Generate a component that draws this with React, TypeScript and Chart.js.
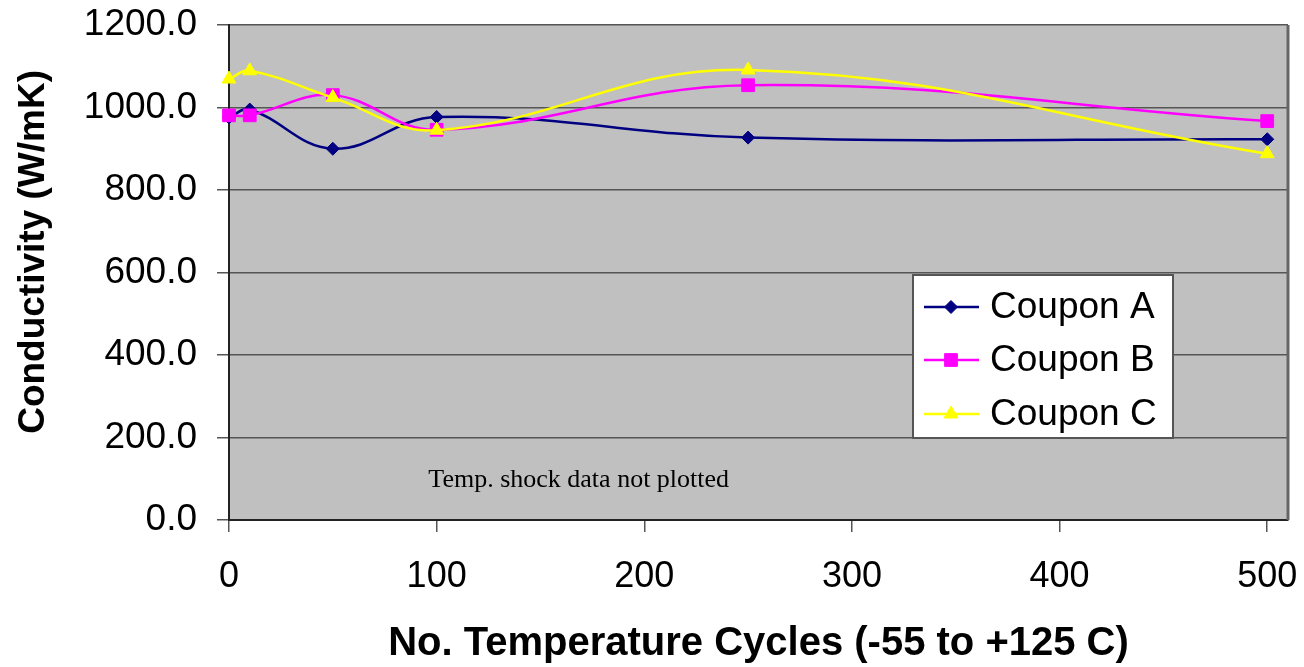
import React, { useEffect, useRef } from "react";
import { Chart, registerables } from "chart.js";
import { drawPoint } from "chart.js/helpers";

Chart.register(...registerables);

const cycles = [0, 10, 50, 100, 250, 500];
const couponA = [976, 995, 900, 977, 927, 923];
const couponB = [981, 981, 1030, 946, 1054, 967];
const couponC = [1069, 1089, 1024, 945, 1091, 888];
const seriesNames = ["Coupon A", "Coupon B", "Coupon C"];
const seriesColors = ["#000080", "#ff00ff", "#ffff00"];
const seriesMarkers = ["rectRot", "rect", "triangle"];
const markerRadius = [6.5, 9, 8];
const xTickValues = [0, 100, 200, 300, 400, 500];
const yTickValues = [0, 200, 400, 600, 800, 1000, 1200];
const xTitle = "No. Temperature Cycles (-55 to +125 C)";
const yTitle = "    Conductivity (W/mK)";
const noteText = "Temp. shock data not plotted";
const noteX = 96;
const noteY = 80;

const SANS = "'Liberation Sans', Arial, sans-serif";
const SERIF = "'Liberation Serif', 'Times New Roman', serif";

const plotBg = {
  id: "plotBg",
  beforeDraw(chart: any) {
    const { ctx, chartArea: a } = chart;
    ctx.save();
    ctx.fillStyle = "#ffffff";
    ctx.fillRect(0, 0, chart.width, chart.height);
    ctx.fillStyle = "#c0c0c0";
    ctx.fillRect(a.left, a.top, a.right - a.left, a.bottom - a.top);
    ctx.restore();
  },
  beforeDatasetsDraw(chart: any) {
    const { ctx, chartArea: a, scales } = chart;
    ctx.save();
    ctx.strokeStyle = "#666666";
    ctx.lineWidth = 3;
    ctx.beginPath();
    ctx.moveTo(a.right, a.top);
    ctx.lineTo(a.right, a.bottom);
    ctx.stroke();
    ctx.font = `26px ${SERIF}`;
    ctx.fillStyle = "#000";
    ctx.textAlign = "left";
    ctx.textBaseline = "alphabetic";
    ctx.fillText(noteText, scales.x.getPixelForValue(noteX), scales.y.getPixelForValue(noteY));
    ctx.restore();
  },
};

const legendBox = {
  id: "legendBox",
  afterDatasetsDraw(chart: any) {
    const { ctx } = chart;
    const left = 913, top = 275, w = 260, h = 163;
    ctx.save();
    ctx.fillStyle = "#ffffff";
    ctx.fillRect(left, top, w, h);
    ctx.strokeStyle = "#555555";
    ctx.lineWidth = 2;
    ctx.strokeRect(left, top, w, h);
    const rows = [307, 360, 414];
    seriesNames.forEach((name, i) => {
      const y = rows[i];
      ctx.strokeStyle = seriesColors[i];
      ctx.lineWidth = 2.5;
      ctx.beginPath();
      ctx.moveTo(924, y);
      ctx.lineTo(979, y);
      ctx.stroke();
      ctx.fillStyle = seriesColors[i];
      ctx.lineWidth = 1;
      drawPoint(ctx, { pointStyle: seriesMarkers[i] as any, radius: markerRadius[i], rotation: 0, borderWidth: 1 }, 951, y);
      ctx.fillStyle = "#000";
      ctx.font = `37px ${SANS}`;
      ctx.textAlign = "left";
      ctx.textBaseline = "middle";
      ctx.fillText(name, 990, y + 1);
    });
    ctx.restore();
  },
};

export default function App() {
  const ref = useRef<HTMLCanvasElement>(null);
  useEffect(() => {
    if (!ref.current) return;
    const series = [couponA, couponB, couponC];
    const chart = new Chart(ref.current, {
      type: "line",
      data: {
        datasets: series.map((vals, i) => ({
          label: seriesNames[i],
          data: cycles.map((x, j) => ({ x, y: vals[j] })),
          borderColor: seriesColors[i],
          backgroundColor: seriesColors[i],
          borderWidth: 2.5,
          pointStyle: seriesMarkers[i] as any,
          pointRadius: markerRadius[i],
          pointBorderWidth: 1,
          pointBorderColor: seriesColors[i],
          pointBackgroundColor: seriesColors[i],
          tension: 0.4,
          fill: false,
          clip: false as any,
          order: 3 - i,
        })),
      },
      options: {
        animation: false,
        responsive: false,
        layout: { padding: { left: 0, top: 25, right: 16, bottom: 0 } },
        plugins: { legend: { display: false }, tooltip: { enabled: false } },
        scales: {
          x: {
            type: "linear",
            min: 0,
            max: 510,
            afterBuildTicks: (s: any) => {
              s.ticks = xTickValues.map((v) => ({ value: v }));
            },
            afterFit: (s: any) => {
              s.height = 147;
              s.paddingLeft = 0;
              s.paddingRight = 0;
              s.paddingTop = 0;
              s.paddingBottom = 0;
            },
            grid: { drawOnChartArea: false, drawTicks: true, tickLength: 12, color: "#555555", lineWidth: 1.5 },
            border: { display: true, color: "#222222", width: 2 },
            ticks: { color: "#000", font: { family: SANS, size: 36 }, padding: 23, maxRotation: 0, autoSkip: false },
            title: {
              display: true,
              text: xTitle,
              color: "#000",
              font: { family: SANS, size: 40, weight: "bold", lineHeight: 1 },
              padding: { top: 0, bottom: 3 },
            },
          },
          y: {
            type: "linear",
            min: 0,
            max: 1200,
            afterBuildTicks: (s: any) => {
              s.ticks = yTickValues.map((v) => ({ value: v }));
            },
            afterFit: (s: any) => {
              s.width = 229;
              s.paddingLeft = 0;
              s.paddingRight = 0;
              s.paddingTop = 0;
              s.paddingBottom = 0;
            },
            grid: { color: "#555555", lineWidth: 1.5, tickLength: 12 },
            border: { display: true, color: "#222222", width: 2 },
            ticks: {
              color: "#000",
              font: { family: SANS, size: 37 },
              padding: 20,
              callback: (v: any) => Number(v).toFixed(1),
            },
            title: {
              display: true,
              text: yTitle,
              color: "#000",
              font: { family: SANS, size: 37, weight: "bold", lineHeight: 1 },
              padding: { top: 15, bottom: 0 },
            },
          },
        },
      } as any,
      plugins: [plotBg, legendBox],
    });
    return () => chart.destroy();
  }, []);
  return (
    <div style={{ position: "absolute", left: 0, top: 0, width: 1304, height: 667, background: "#fff" }}>
      <canvas ref={ref} width={1304} height={667} style={{ display: "block" }} />
    </div>
  );
}
